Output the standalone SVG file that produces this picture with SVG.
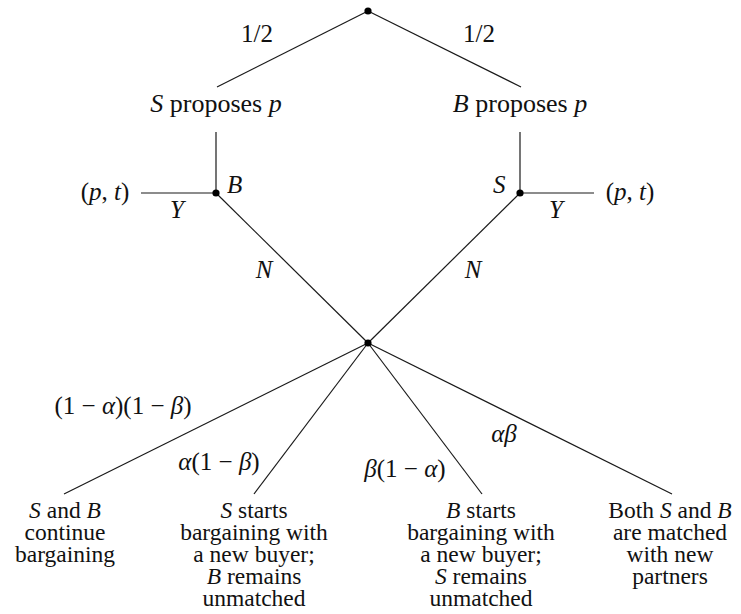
<svg xmlns="http://www.w3.org/2000/svg" width="741" height="614" viewBox="0 0 741 614" font-family="Liberation Serif, Times New Roman, Tinos, DejaVu Serif, serif">
<style>
  text { font-family: "Liberation Serif", "Times New Roman", Tinos, "DejaVu Serif", serif; fill: #111; }
  .top { font-size: 26px; }
  .m { font-size: 25px; }
  .bot { font-size: 23.5px; text-anchor: middle; }
  .c { text-anchor: middle; }
  .i { font-style: italic; }
  .edge { stroke: #1a1a1a; stroke-width: 1.2; fill: none; }
  .dot { fill: #000; }
</style>
<rect width="741" height="614" fill="#fff"/>

<g id="connectors">
  <line class="edge" x1="368" y1="11" x2="217" y2="87"/>
  <line class="edge" x1="368" y1="11" x2="521" y2="87"/>
  <line class="edge" x1="216" y1="132" x2="216" y2="193"/>
  <line class="edge" x1="520" y1="132" x2="520" y2="193"/>
  <line class="edge" x1="216" y1="193" x2="141" y2="193"/>
  <line class="edge" x1="520" y1="193" x2="594" y2="193"/>
  <line class="edge" x1="216" y1="193" x2="368" y2="343"/>
  <line class="edge" x1="520" y1="193" x2="368" y2="343"/>
  <line class="edge" x1="368" y1="343" x2="64" y2="494"/>
  <line class="edge" x1="368" y1="343" x2="254" y2="494"/>
  <line class="edge" x1="368" y1="343" x2="482" y2="494"/>
  <line class="edge" x1="368" y1="343" x2="672" y2="494"/>
  <g id="edge-labels">
    <text class="m c" x="257" y="42">1/2</text>
    <text class="m c" x="479" y="42">1/2</text>
    <text class="m c i" x="177" y="218">Y</text>
    <text class="m c i" x="556" y="218">Y</text>
    <text class="m c i" x="264" y="278">N</text>
    <text class="m c i" x="473" y="278">N</text>
    <text class="m c" x="123" y="414">(1 − <tspan class="i">α</tspan>)(1 − <tspan class="i">β</tspan>)</text>
    <text class="m c" x="219" y="470"><tspan class="i">α</tspan>(1 − <tspan class="i">β</tspan>)</text>
    <text class="m c" x="405" y="477"><tspan class="i">β</tspan>(1 − <tspan class="i">α</tspan>)</text>
    <text class="m c i" x="504" y="442">αβ</text>
  </g>
</g>

<g id="root">
  <circle class="dot" cx="368" cy="11" r="3.6"/>
</g>
<g id="s-proposes">
  <text class="top c" x="216" y="112"><tspan class="i">S</tspan> proposes <tspan class="i">p</tspan></text>
</g>
<g id="b-proposes">
  <text class="top c" x="520" y="112"><tspan class="i">B</tspan> proposes <tspan class="i">p</tspan></text>
</g>
<g id="buyer-decision">
  <circle class="dot" cx="216" cy="193" r="3.6"/>
  <text class="m i" x="227" y="193">B</text>
</g>
<g id="seller-decision">
  <circle class="dot" cx="520" cy="193" r="3.6"/>
  <text class="m i" x="493" y="193">S</text>
</g>
<g id="accept-left">
  <text class="m c" x="105" y="200">(<tspan class="i">p</tspan>, <tspan class="i">t</tspan>)</text>
</g>
<g id="accept-right">
  <text class="m c" x="630" y="200">(<tspan class="i">p</tspan>, <tspan class="i">t</tspan>)</text>
</g>
<g id="chance">
  <circle class="dot" cx="368" cy="343" r="3.6"/>
</g>
<g id="outcome-continue">
  <text class="bot" x="65" y="518"><tspan class="i">S</tspan> and <tspan class="i">B</tspan><tspan x="65" dy="22">continue</tspan><tspan x="65" dy="22">bargaining</tspan></text>
</g>
<g id="outcome-seller-new">
  <text class="bot" x="254" y="518"><tspan class="i">S</tspan> starts<tspan x="254" dy="22">bargaining with</tspan><tspan x="254" dy="22">a new buyer;</tspan><tspan x="254" dy="22"><tspan class="i">B</tspan> remains</tspan><tspan x="254" dy="22">unmatched</tspan></text>
</g>
<g id="outcome-buyer-new">
  <text class="bot" x="481" y="518"><tspan class="i">B</tspan> starts<tspan x="481" dy="22">bargaining with</tspan><tspan x="481" dy="22">a new buyer;</tspan><tspan x="481" dy="22"><tspan class="i">S</tspan> remains</tspan><tspan x="481" dy="22">unmatched</tspan></text>
</g>
<g id="outcome-both-new">
  <text class="bot" x="670" y="518">Both <tspan class="i">S</tspan> and <tspan class="i">B</tspan><tspan x="670" dy="22">are matched</tspan><tspan x="670" dy="22">with new</tspan><tspan x="670" dy="22">partners</tspan></text>
</g>
</svg>
